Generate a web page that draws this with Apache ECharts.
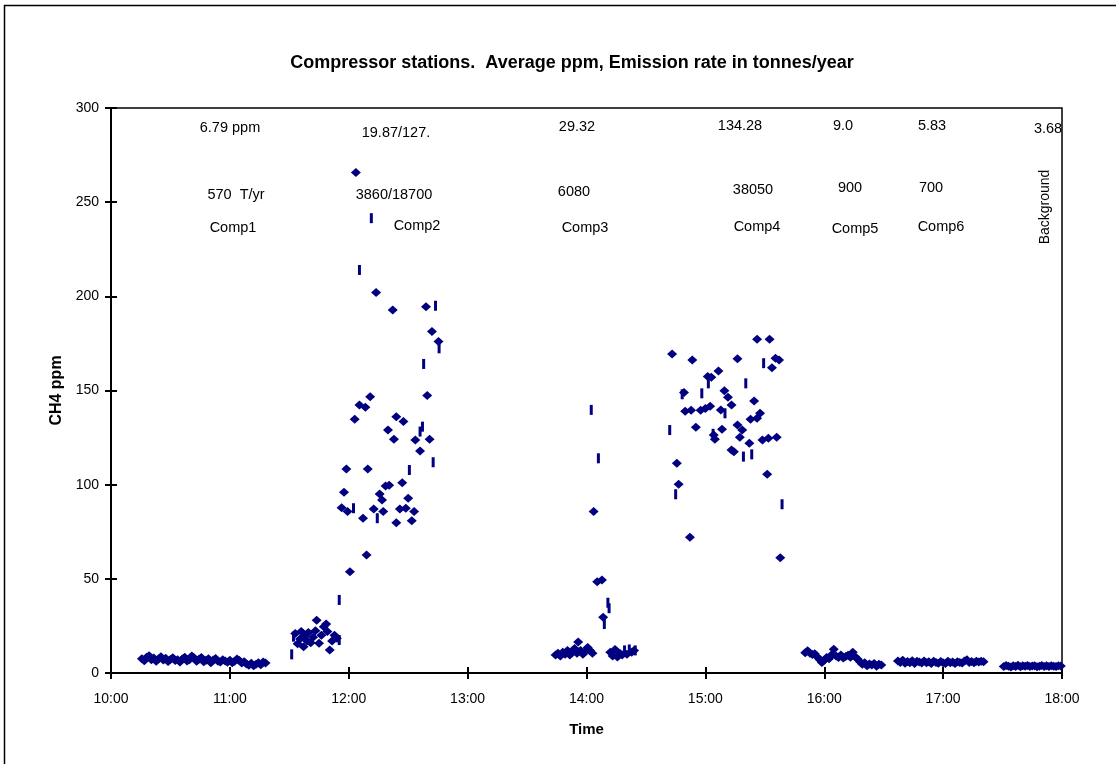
<!DOCTYPE html>
<html>
<head>
<meta charset="utf-8">
<script src="https://cdn.jsdelivr.net/npm/echarts@6/dist/echarts.min.js"></script>
<style>
html,body{margin:0;padding:0;background:#fff;}
#chart{width:1116px;height:764px;}
</style>
</head>
<body>
<div id="chart"></div>
<script>
// ---- Data (time in decimal hours, CH4 in ppm) ----
const xTickLabels = ['10:00','11:00','12:00','13:00','14:00','15:00','16:00','17:00','18:00'];

const comp1Times = [10.26,10.28,10.30,10.32,10.34,10.36,10.38,10.40,10.42,10.44,10.46,10.48,10.50,10.52,10.54,10.56,10.58,10.60,10.62,10.64,10.66,10.68,10.70,10.72,10.74,10.76,10.78,10.80,10.82,10.84,10.86,10.88,10.90,10.92,10.94,10.96,10.98,11.00,11.02,11.04,11.06,11.08,11.10,11.12,11.14,11.16,11.18,11.20,11.22,11.24,11.26,11.28,11.30];
const comp1Values = [7.6,6.5,8.4,9.2,7.1,8.0,6.3,7.4,8.6,6.9,7.8,6.1,7.2,8.1,6.6,7.0,5.8,7.5,8.3,6.4,7.1,9.0,7.9,6.2,7.3,8.2,6.0,6.8,7.6,5.5,6.9,7.7,6.3,5.9,7.0,6.4,5.7,6.8,5.4,6.2,7.5,6.6,5.3,6.0,4.8,4.1,5.2,3.9,4.6,5.5,4.4,5.8,5.3];

const comp2Times = [11.55,11.57,11.59,11.60,11.62,11.63,11.65,11.66,11.68,11.70,11.72,11.73,11.75,11.77,11.79,11.81,11.82,11.84,11.86,11.88,11.90,
  12.01,12.15,12.06,12.23,12.37,12.65,12.70,12.755,12.18,12.66,12.09,12.14,12.05,12.40,12.46,12.33,12.38,12.56,12.68,12.60,11.98,12.16,12.45,12.31,12.34,11.96,12.26,12.28,12.50,11.94,11.99,12.12,12.21,12.29,12.43,12.48,12.55,12.40,12.53];
const comp2Values = [21.0,15.5,18.0,22.0,14.0,19.5,17.0,21.5,16.0,19.0,22.5,28.0,15.8,20.0,24.5,26.0,22.0,12.2,17.0,20.0,18.4,
  53.8,62.7,265.7,202.0,192.8,194.5,181.3,176.0,146.7,147.3,142.3,141.1,134.7,136.1,133.5,129.0,124.1,123.7,124.1,117.9,108.3,108.3,101.0,99.3,99.7,96.0,95.0,91.9,92.8,87.8,85.7,82.2,87.1,85.7,87.1,87.5,85.7,79.8,80.9];

const comp2DashTimes = [11.52,11.535,11.61,11.92,11.92,12.19,12.09,12.73,12.76,12.63,12.62,12.60,12.71,12.51,12.04,12.24];
const comp2DashValues = [9.9,19.3,20.5,17.5,38.8,241.5,214.0,195.0,172.4,164.1,130.8,128.2,111.9,107.8,87.5,82.2];

const comp3Times = [13.74,13.76,13.78,13.80,13.82,13.84,13.86,13.88,13.90,13.92,13.93,13.95,13.97,13.99,14.01,14.03,14.05,14.06,14.09,14.13,14.14,14.20,14.22,14.24,14.26,14.28,14.30,14.34,14.38,14.40];
const comp3Values = [9.5,10.5,9.0,11.0,10.0,12.0,9.5,11.5,13.0,10.5,16.5,12.0,10.0,11.5,13.5,12.0,10.5,85.7,48.5,49.4,29.6,11.0,9.0,12.5,8.5,10.5,9.5,10.0,11.0,12.0];
const comp3DashTimes = [14.04,14.10,14.18,14.19,14.15,14.32,14.36,14.41];
const comp3DashValues = [139.7,114.0,37.3,34.4,26.0,12.0,12.5,12.0];

const comp4Times = [15.435,15.54,14.72,14.89,15.27,15.59,15.62,15.56,15.11,15.02,15.05,15.16,14.82,15.19,15.41,15.22,14.83,14.88,14.96,15.00,15.04,15.13,15.46,15.435,15.38,14.92,15.27,15.31,15.14,15.07,15.08,15.29,15.37,15.48,15.53,15.60,15.22,15.24,14.76,15.52,14.775,14.87,15.63];
const comp4Values = [177.2,177.2,169.4,166.2,166.8,167.1,166.2,162.1,160.4,157.4,157.0,149.9,148.9,146.4,144.4,142.3,139.0,139.5,139.5,140.4,141.6,139.7,137.9,135.3,134.7,130.5,131.7,129.0,129.4,126.4,124.1,125.2,122.0,123.7,124.6,125.2,118.4,117.5,111.4,105.5,100.2,72.1,61.2];
const comp4DashTimes = [15.49,15.025,15.34,14.805,14.97,15.165,14.70,15.065,15.32,15.39,14.75,15.645];
const comp4DashValues = [164.5,153.8,153.8,148.0,148.5,137.9,129.0,127.0,114.9,116.1,94.9,89.6];

const comp5Times = [15.84,15.86,15.88,15.90,15.92,15.94,15.96,15.98,16.00,16.02,16.04,16.06,16.08,16.10,16.12,16.14,16.16,16.18,16.20,16.22,16.24,16.26,16.28,16.30,16.32,16.34,16.36,16.38,16.40,16.42,16.44,16.46,16.48];
const comp5Values = [10.8,11.8,10.5,9.8,10.2,8.6,7.2,5.6,6.8,8.2,7.6,9.5,12.6,9.0,8.2,9.6,8.0,8.8,9.4,8.4,11.0,8.6,7.4,6.0,4.6,5.4,3.8,4.8,4.2,5.0,3.6,4.6,4.2];

const comp6Times = [16.62,16.64,16.66,16.68,16.70,16.72,16.74,16.76,16.78,16.80,16.82,16.84,16.86,16.88,16.90,16.92,16.94,16.96,16.98,17.00,17.02,17.04,17.06,17.08,17.10,17.12,17.14,17.16,17.18,17.20,17.22,17.24,17.26,17.28,17.30,17.32,17.34];
const comp6Values = [6.4,5.6,6.8,5.2,6.1,5.5,6.5,5.0,6.2,5.8,5.3,6.4,5.4,6.0,5.1,6.3,5.6,5.2,6.1,5.5,5.0,6.2,5.4,5.9,5.1,6.0,5.6,5.3,6.4,7.0,5.6,6.1,5.4,6.3,5.8,6.2,6.0];

const bgTimes = [17.51,17.53,17.55,17.57,17.59,17.61,17.63,17.65,17.67,17.69,17.71,17.73,17.75,17.77,17.79,17.81,17.83,17.85,17.87,17.89,17.91,17.93,17.95,17.97,17.99];
const bgValues = [3.4,4.0,3.6,3.2,3.9,3.5,4.1,3.3,3.8,3.6,4.0,3.4,3.7,3.9,3.3,3.6,4.0,3.5,3.8,3.4,3.9,3.6,3.5,3.8,3.7];

// annotation texts
const ppmTexts = ['6.79 ppm','19.87/127.','29.32','134.28','9.0','5.83','3.68'];
const rateTexts = ['570  T/yr','3860/18700','6080','38050','900','700'];
const nameTexts = ['Comp1','Comp2','Comp3','Comp4','Comp5','Comp6'];
const bgText = 'Background';

// ---- build ----
function pairs(t, v){ return t.map((x,i)=>[x, v[i]]); }
const diamondData = [].concat(
  pairs(comp1Times, comp1Values), pairs(comp2Times, comp2Values), pairs(comp3Times, comp3Values),
  pairs(comp4Times, comp4Values), pairs(comp5Times, comp5Values), pairs(comp6Times, comp6Values),
  pairs(bgTimes, bgValues));
const dashData = [].concat(pairs(comp2DashTimes, comp2DashValues), pairs(comp3DashTimes, comp3DashValues), pairs(comp4DashTimes, comp4DashValues));

const FONT = '"Liberation Sans", Arial, sans-serif';
const NAVY = '#000080';

const ppmPos = [[230,128],[396,133],[577,127],[740,126],[843,126],[932,126],[1048,129]];
const ratePos = [[236,195],[394,195],[574,192],[753,190],[850,188],[931,188]];
const namePos = [[233,228],[417,226],[585,228],[757,227],[855,229],[941,227]];

const graphics = [
  // outer chart-area border: only its left and top edges fall inside the picture
  {type:'rect', shape:{x:4.5, y:5.5, width:1130, height:780}, style:{fill:null, stroke:'#000', lineWidth:1.5}, z:-1, silent:true}
];
function txt(s, p, extra){
  return Object.assign({type:'text', x:p[0], y:p[1], style:{text:s, fill:'#000', font:'14.5px '+FONT, textAlign:'center', textVerticalAlign:'middle'}, z:10}, extra||{});
}
ppmTexts.forEach((s,i)=>graphics.push(txt(s, ppmPos[i])));
rateTexts.forEach((s,i)=>graphics.push(txt(s, ratePos[i])));
nameTexts.forEach((s,i)=>graphics.push(txt(s, namePos[i])));
graphics.push({type:'text', x:1045, y:207, rotation:Math.PI/2, style:{text:bgText, fill:'#000', font:'14px '+FONT, textAlign:'center', textVerticalAlign:'middle'}, z:10});

const chart = echarts.init(document.getElementById('chart'), null, {renderer:'canvas'});
const xCommon = {type:'value', min:10, max:18, interval:1, position:'bottom'};
const yCommon = {type:'value', min:0, max:300, interval:50, position:'left'};
chart.setOption({
  animation:false,
  backgroundColor:'#fff',
  title:{
    text:'Compressor stations.  Average ppm, Emission rate in tonnes/year',
    left:567, top:49, textAlign:'center',
    textStyle:{fontFamily:FONT, fontSize:18, fontWeight:'bold', color:'#000'}
  },
  grid:{left:111, right:54, top:108, bottom:91, show:true, borderColor:'#000', borderWidth:1.5, backgroundColor:'transparent'},
  xAxis:[
    Object.assign({}, xCommon, {
      name:'Time', nameLocation:'middle', nameGap:49,
      nameTextStyle:{fontFamily:FONT, fontSize:15, fontWeight:'bold', color:'#000'},
      axisLine:{show:true, lineStyle:{color:'#000', width:2}},
      axisTick:{show:true, length:6, lineStyle:{color:'#000', width:2}},
      axisLabel:{margin:19, fontFamily:FONT, fontSize:14, color:'#000', formatter:(v)=>xTickLabels[Math.round(v-10)]},
      splitLine:{show:false}
    }),
    Object.assign({}, xCommon, {
      axisLine:{show:false}, axisLabel:{show:false}, splitLine:{show:false},
      axisTick:{show:true, inside:true, length:6, lineStyle:{color:'#000', width:2}}
    })
  ],
  yAxis:[
    Object.assign({}, yCommon, {
      name:'CH4 ppm', nameLocation:'middle', nameGap:46, nameRotate:90,
      nameTextStyle:{fontFamily:FONT, fontSize:16, fontWeight:'bold', color:'#000'},
      axisLine:{show:true, lineStyle:{color:'#000', width:2}},
      axisTick:{show:true, length:6, lineStyle:{color:'#000', width:2}},
      axisLabel:{margin:12, fontFamily:FONT, fontSize:14, color:'#000'},
      splitLine:{show:false}
    }),
    Object.assign({}, yCommon, {
      axisLine:{show:false}, axisLabel:{show:false}, splitLine:{show:false},
      axisTick:{show:true, inside:true, length:6, lineStyle:{color:'#000', width:2}}
    })
  ],
  series:[
    {type:'scatter', name:'diamond', data:diamondData, symbol:'diamond', symbolSize:[10,9],
      itemStyle:{color:NAVY, opacity:1}, xAxisIndex:0, yAxisIndex:0},
    {type:'scatter', name:'dash', data:dashData, symbol:'rect', symbolSize:[3,10],
      itemStyle:{color:NAVY, opacity:1}, xAxisIndex:0, yAxisIndex:0}
  ],
  graphic: graphics
});
</script>
</body>
</html>
